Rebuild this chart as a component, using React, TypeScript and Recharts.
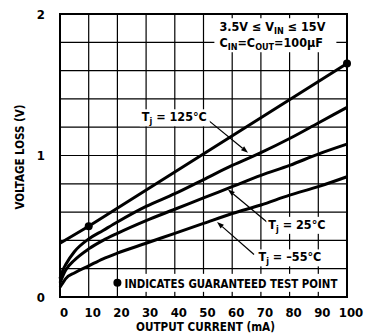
import { ComposedChart, CartesianGrid, Line, XAxis, YAxis, ReferenceArea, ReferenceDot, ReferenceLine } from "recharts";

const currentMA = [0, 1, 2, 5, 10, 15, 20, 30, 40, 50, 60, 70, 80, 90, 100];
const lossTj125 = [0.13, 0.19, 0.23, 0.32, 0.41, 0.47, 0.53, 0.64, 0.73, 0.83, 0.93, 1.02, 1.12, 1.23, 1.34];
const lossTj25 = [0.1, 0.15, 0.19, 0.26, 0.34, 0.4, 0.45, 0.54, 0.62, 0.7, 0.78, 0.86, 0.93, 1.01, 1.08];
const lossTjMinus55 = [0.07, 0.1, 0.13, 0.17, 0.22, 0.27, 0.31, 0.38, 0.45, 0.52, 0.59, 0.65, 0.72, 0.78, 0.85];

const guaranteedCurrent = [0, 10, 100];
const guaranteedLoss = [0.38, 0.5, 1.65];
const testPointCurrent = [10, 100];
const testPointLoss = [0.5, 1.65];

const xTicks = [0, 10, 20, 30, 40, 50, 60, 70, 80, 90, 100];
const yTicks = [0, 1, 2];
const gridX = [10, 20, 30, 40, 50, 60, 70, 80, 90];
const gridY = [0.2, 0.4, 0.6, 0.8, 1, 1.2, 1.4, 1.6, 1.8];

const FONT = "'Liberation Sans Narrow', 'DejaVu Sans Condensed', 'Liberation Sans', Arial, sans-serif";

const toSeries = (xs: number[], ys: number[]) => xs.map((x, i) => ({ x, v: ys[i] }));

const series125 = toSeries(currentMA, lossTj125);
const series25 = toSeries(currentMA, lossTj25);
const seriesMinus55 = toSeries(currentMA, lossTjMinus55);
const seriesGuaranteed = toSeries(guaranteedCurrent, guaranteedLoss);

// label with T subscript j, drawn on a white patch so the grid breaks behind it
const tjLabel = (text: string, w: number) => (p: any) => (
  <g>
    <rect x={p.cx - w / 2 - 2} y={p.cy - 8} width={w + 4} height={17} fill="#fff" />
    <text x={p.cx - w / 2} y={p.cy + 4} fontFamily={FONT} fontWeight="bold" fontSize={12.5} fill="#000">
      <tspan>T</tspan>
      <tspan dy={3} fontSize={9}>j</tspan>
      <tspan dy={-3}>{text}</tspan>
    </text>
  </g>
);

const arrowShape = (p: any) => {
  const { x1, y1, x2, y2 } = p;
  const a = Math.atan2(y2 - y1, x2 - x1);
  const len = 7;
  const w = 2.5;
  const bx = x2 - len * Math.cos(a);
  const by = y2 - len * Math.sin(a);
  const pts = `${x2},${y2} ${bx + w * Math.sin(a)},${by - w * Math.cos(a)} ${bx - w * Math.sin(a)},${by + w * Math.cos(a)}`;
  return (
    <g>
      <line x1={x1} y1={y1} x2={bx} y2={by} stroke="#000" strokeWidth={1.2} />
      <polygon points={pts} fill="#000" />
    </g>
  );
};

const conditionBox = (p: any) => (
  <g>
    <rect x={p.cx - 58} y={p.cy - 17} width={122} height={34} fill="#fff" />
    <text x={p.cx - 53} y={p.cy - 4} fontFamily={FONT} fontWeight="bold" fontSize={12.5} fill="#000">
      <tspan>3.5V ≤ V</tspan>
      <tspan dy={3} fontSize={9}>IN</tspan>
      <tspan dy={-3}> ≤ 15V</tspan>
    </text>
    <text x={p.cx - 53} y={p.cy + 12} fontFamily={FONT} fontWeight="bold" fontSize={12.5} fill="#000">
      <tspan>C</tspan>
      <tspan dy={3} fontSize={9}>IN</tspan>
      <tspan dy={-3}>=C</tspan>
      <tspan dy={3} fontSize={9}>OUT</tspan>
      <tspan dy={-3}>=100µF</tspan>
    </text>
  </g>
);

const legendNote = (p: any) => (
  <g>
    <rect x={p.cx + 5} y={p.cy - 9} width={220} height={18} fill="#fff" />
    <circle cx={p.cx} cy={p.cy} r={4} fill="#000" />
    <text x={p.cx + 7} y={p.cy + 5} fontFamily={FONT} fontWeight="bold" fontSize={12.5} fill="#000" textLength={213} lengthAdjust="spacingAndGlyphs">
      INDICATES GUARANTEED TEST POINT
    </text>
  </g>
);

const xTitle = (p: any) => {
  const vb = p.viewBox;
  return (
    <text x={vb.x + vb.width / 2 + 60 - 58} y={vb.y + 34} textAnchor="middle" fontFamily={FONT} fontWeight="bold" fontSize={12.5} fill="#000" textLength={139} lengthAdjust="spacingAndGlyphs">
      OUTPUT CURRENT (mA)
    </text>
  );
};

const yTitle = () => (
  <text x={0} y={0} transform="translate(24, 157) rotate(-90)" textAnchor="middle" fontFamily={FONT} fontWeight="bold" fontSize={12.5} fill="#000" textLength={105} lengthAdjust="spacingAndGlyphs">
    VOLTAGE LOSS (V)
  </text>
);

const App = () => {
  return (
    <div style={{ position: "absolute", left: 0, top: 0, background: "#fff" }}>
      <ComposedChart width={365} height={335} margin={{ top: 14, right: 18, bottom: 8, left: 0 }}>
        <CartesianGrid horizontalValues={gridY} verticalValues={gridX} stroke="#000" strokeWidth={1.2} />
        <XAxis
          type="number"
          dataKey="x"
          domain={[0, 100]}
          ticks={xTicks}
          height={30}
          axisLine={false}
          tickLine={false}
          tickMargin={5}
          tick={{ fill: "#000", fontSize: 13, fontFamily: FONT, fontWeight: "bold", dx: 4 }}
          label={xTitle}
        />
        <YAxis
          type="number"
          dataKey="v"
          domain={[0, 2]}
          ticks={yTicks}
          width={60}
          axisLine={false}
          tickLine={false}
          tickMargin={9}
          tick={{ fill: "#000", fontSize: 13, fontFamily: FONT, fontWeight: "bold" }}
          label={yTitle}
        />
        <ReferenceArea x1={0} x2={100} y1={0} y2={2} fill="none" stroke="#000" strokeWidth={2} />

        <ReferenceDot x={74} y={1.85} r={0} shape={conditionBox} />
        <ReferenceDot x={40} y={1.27} r={0} shape={tjLabel(" = 125°C", 66)} />
        <ReferenceDot x={82} y={0.51} r={0} shape={tjLabel(" = 25°C", 54)} />
        <ReferenceDot x={81} y={0.28} r={0} shape={tjLabel(" = –55°C", 68)} />
        <ReferenceDot x={20} y={0.1} r={0} shape={legendNote} />

        <ReferenceLine segment={[{ x: 51.6, y: 1.25 }, { x: 65.5, y: 1.02 }]} shape={arrowShape} />
        <ReferenceLine segment={[{ x: 72.1, y: 0.53 }, { x: 58.5, y: 0.76 }]} shape={arrowShape} />
        <ReferenceLine segment={[{ x: 67.6, y: 0.3 }, { x: 54.7, y: 0.53 }]} shape={arrowShape} />

        <Line data={seriesGuaranteed} dataKey="v" type="linear" stroke="#000" strokeWidth={3} dot={false} isAnimationActive={false} />
        <Line data={series125} dataKey="v" type="monotone" stroke="#000" strokeWidth={3} dot={false} isAnimationActive={false} />
        <Line data={series25} dataKey="v" type="monotone" stroke="#000" strokeWidth={3} dot={false} isAnimationActive={false} />
        <Line data={seriesMinus55} dataKey="v" type="monotone" stroke="#000" strokeWidth={3} dot={false} isAnimationActive={false} />

        {testPointCurrent.map((x, i) => (
          <ReferenceDot key={x} x={x} y={testPointLoss[i]} r={4} fill="#000" stroke="none" />
        ))}
      </ComposedChart>
    </div>
  );
};

export default App;
